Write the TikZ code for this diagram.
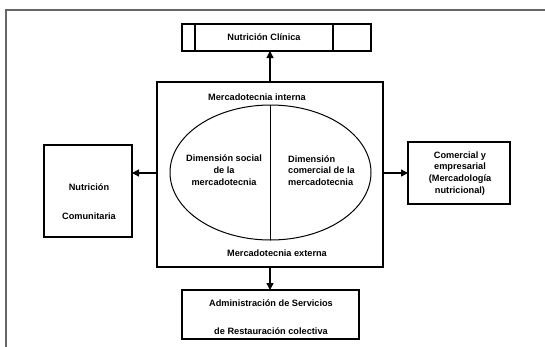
\documentclass[tikz,border=0pt]{standalone}
\usepackage{fontspec}
\setmainfont{Liberation Sans}
\usetikzlibrary{arrows.meta}
\begin{document}
\begin{tikzpicture}[x=1pt,y=-1pt,
  box/.style={draw=black,line width=1.1pt},
  lbl/.style={font=\fontsize{9.2}{11.8}\selectfont\bfseries,inner sep=0pt,align=center},
  arr/.style={-{Triangle[length=7pt,width=7pt]},line width=1.3pt}]
\useasboundingbox (0,0) rectangle (545,346);
\draw[line width=2pt,draw=black!60] (548,10) -- (6,10) -- (6,349);
% top box
\draw[box] (182,24) rectangle (371,51);
\draw[box] (195,24) -- (195,51);
\draw[box] (333,24) -- (333,51);
\node[lbl] (clin) at (264,37.5) {Nutrición Clínica};
\coordinate (clinb) at (270,51);
% central box
\draw[box] (157,82) rectangle (383,267);
\coordinate (ctop) at (270,82);
\coordinate (cbot) at (270,267);
\coordinate (cleft) at (157,173);
\coordinate (cright) at (383,173);
\node[lbl] (mi) at (257,97) {Mercadotecnia interna};
\draw[line width=1pt] (270.5,172.5) ellipse [x radius=100.5,y radius=67.5];
\draw[line width=1pt] (270.5,105) -- (270.5,240);
\node[lbl] (soc) at (224,170) {Dimensión social\\de la\\mercadotecnia};
\node[lbl,align=left,anchor=west] (com) at (288,170.5) {Dimensión\\comercial de la\\mercadotecnia};
\node[lbl] (me) at (277,253) {Mercadotecnia externa};
% left box
\draw[box] (44,145) rectangle (132,237);
\coordinate (lright) at (132,173);
\node[lbl] (ncom) at (89,187) {Nutrición};
\node[lbl] (ncom2) at (89,216) {Comunitaria};
% right box
\draw[box] (408,142) rectangle (510,204);
\coordinate (rleft) at (408,173);
\node[lbl] (ce) at (460,173.5) {Comercial y\\empresarial\\(Mercadología\\nutricional)};
% bottom box
\draw[box] (182,290) rectangle (359,339);
\coordinate (btop) at (270,290);
\node[lbl] (adm) at (271,303) {Administración de Servicios};
\node[lbl] (adm2) at (271,331) {de Restauración colectiva};
% arrows
\draw[arr] (ctop) -- (clinb);
\draw[arr] (cleft) -- (lright);
\draw[arr] (cright) -- (rleft);
\draw[arr] (cbot) -- (btop);
\end{tikzpicture}
\end{document}
